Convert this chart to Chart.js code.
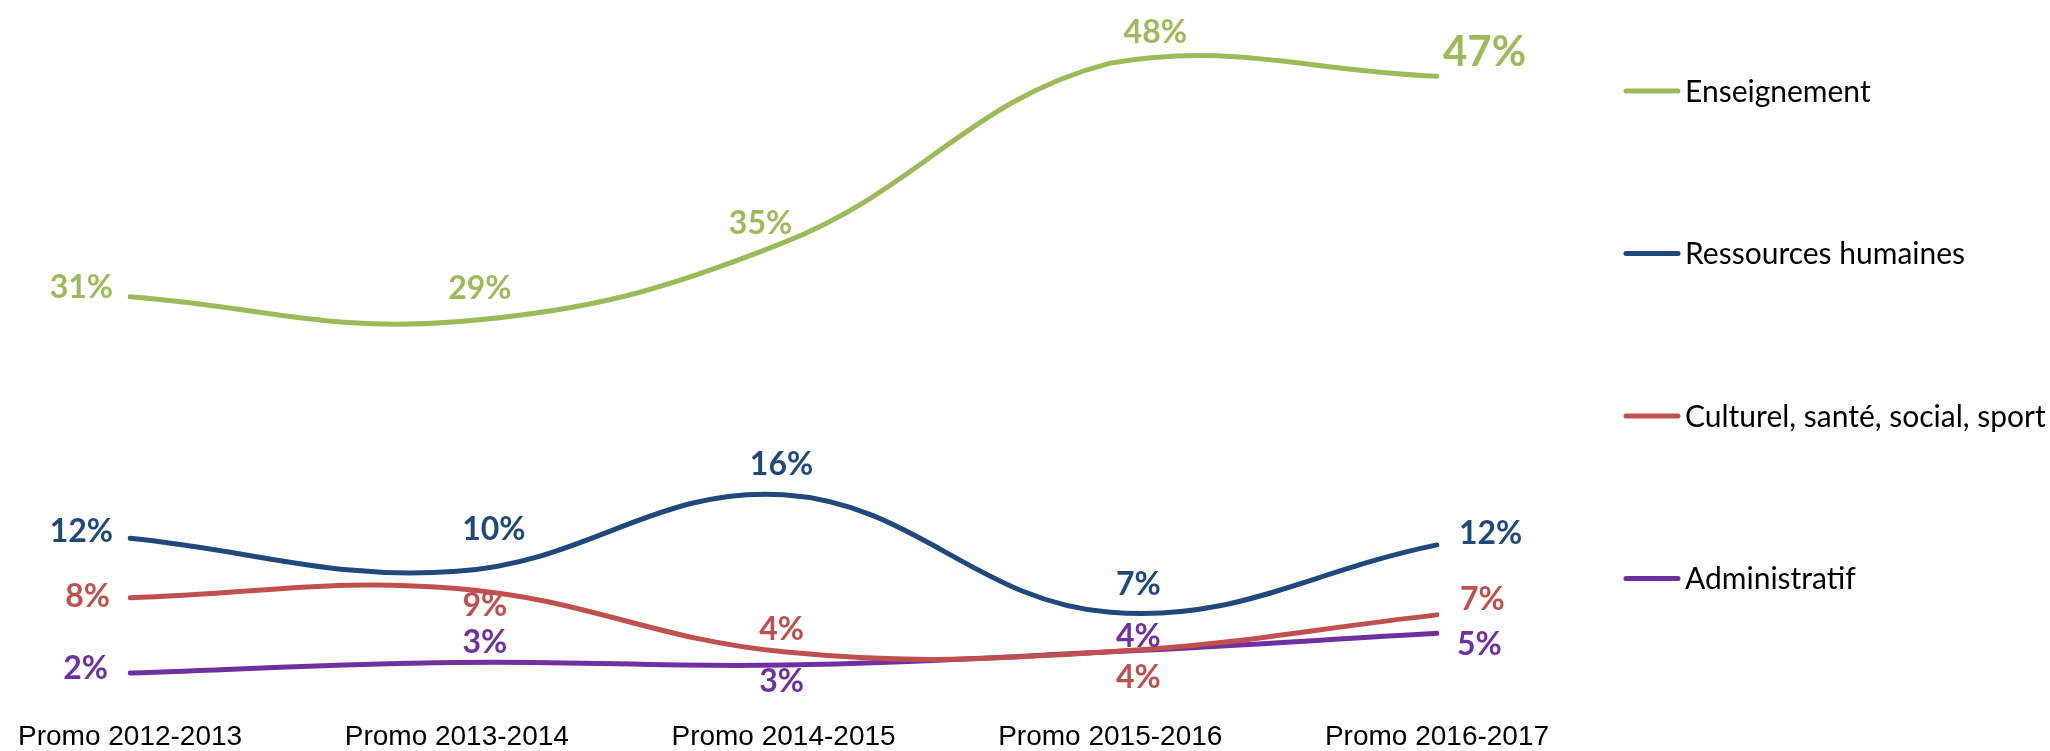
<!DOCTYPE html>
<html>
<head>
<meta charset="utf-8">
<script src="https://cdn.jsdelivr.net/npm/chart.js@4"></script>
<style>
  html, body { margin: 0; padding: 0; background: #fff; }
  #wrap { width: 2050px; height: 751px; }
</style>
</head>
<body>
<div id="wrap"><canvas id="promo-chart" width="2050" height="751"></canvas></div>
<script>
const categories = ['Promo 2012-2013', 'Promo 2013-2014', 'Promo 2014-2015', 'Promo 2015-2016', 'Promo 2016-2017'];
const seriesNames = ['Enseignement', 'Ressources humaines', 'Culturel, santé, social, sport', 'Administratif'];
const enseignement = [30.7, 28.8, 34.8, 48.4, 47.4];
const ressourcesHumaines = [12.4, 9.9, 15.7, 6.8, 11.9];
const culturel = [7.9, 8.6, 3.8, 3.8, 6.6];
const administratif = [2.2, 3.0, 2.8, 3.8, 5.2];

const colors = ['#9BBB59', '#1F497D', '#C0504D', '#7030A0'];

// where each value label sits relative to its point (dx, dy)
const labelOffsets = [
    [[-17, -9], [23, -33], [-23, -19], [45, -30], [6, -24]],
    [[-17, -7], [37, -42], [-2, -30], [28, -28], [22, -11]],
    [[-20, -1], [28, 17], [-2, -22], [28, 26], [23, -15]],
    [[-22, -4], [28, -20], [-2, 17], [28, -15], [20, 11]]
];

const valueLabels = {
    id: 'valueLabels',
    afterDatasetsDraw(chart) {
        const ctx = chart.ctx;
        ctx.save();
        ctx.textBaseline = 'middle';
        chart.data.datasets.forEach((ds, i) => {
            const meta = chart.getDatasetMeta(i);
            meta.data.forEach((pt, j) => {
                const off = labelOffsets[i][j];
                const last = j === ds.data.length - 1;
                const big = i === 0 && last;
                ctx.font = 'bold ' + (big ? 42 : 32) + 'px Lato, "Open Sans", sans-serif';
                ctx.fillStyle = ds.borderColor;
                ctx.textAlign = j === 0 ? 'right' : (last ? 'left' : 'center');
                ctx.fillText(Math.round(ds.data[j]) + '%', pt.x + off[0], pt.y + off[1]);
            });
        });
        ctx.restore();
    }
};

const sideLegend = {
    id: 'sideLegend',
    afterDraw(chart) {
        const ctx = chart.ctx;
        ctx.save();
        ctx.textBaseline = 'middle';
        ctx.textAlign = 'left';
        ctx.font = '30px Lato, "Open Sans", sans-serif';
        chart.data.datasets.forEach((ds, i) => {
            const y = 91 + i * 162.5;
            ctx.strokeStyle = ds.borderColor;
            ctx.lineWidth = 5;
            ctx.lineCap = 'round';
            ctx.beginPath();
            ctx.moveTo(1626, y);
            ctx.lineTo(1678, y);
            ctx.stroke();
            ctx.fillStyle = '#000';
            ctx.fillText(ds.label, 1685, y + 1);
        });
        ctx.restore();
    }
};

const allSeries = [enseignement, ressourcesHumaines, culturel, administratif];

new Chart(document.getElementById('promo-chart').getContext('2d'), {
    type: 'line',
    data: {
        labels: categories,
        datasets: allSeries.map((values, i) => ({
            label: seriesNames[i],
            data: values,
            borderColor: colors[i],
            borderWidth: 5,
            borderCapStyle: 'round',
            pointRadius: 0,
            tension: 0.4,
            fill: false
        }))
    },
    options: {
        responsive: false,
        devicePixelRatio: 1,
        animation: false,
        layout: {
            padding: { left: 125, right: 613, top: 42, bottom: 0 }
        },
        plugins: {
            legend: { display: false },
            tooltip: { enabled: false }
        },
        scales: {
            x: {
                offset: false,
                grid: { display: false, drawTicks: false },
                border: { display: false },
                afterFit(scale) { scale.height = 49; },
                ticks: {
                    color: '#000',
                    padding: 18,
                    maxRotation: 0,
                    font: { family: '"Liberation Sans", Arial, sans-serif', size: 28 }
                }
            },
            y: {
                display: false,
                min: 0,
                max: 50
            }
        }
    },
    plugins: [valueLabels, sideLegend]
});
</script>
</body>
</html>
